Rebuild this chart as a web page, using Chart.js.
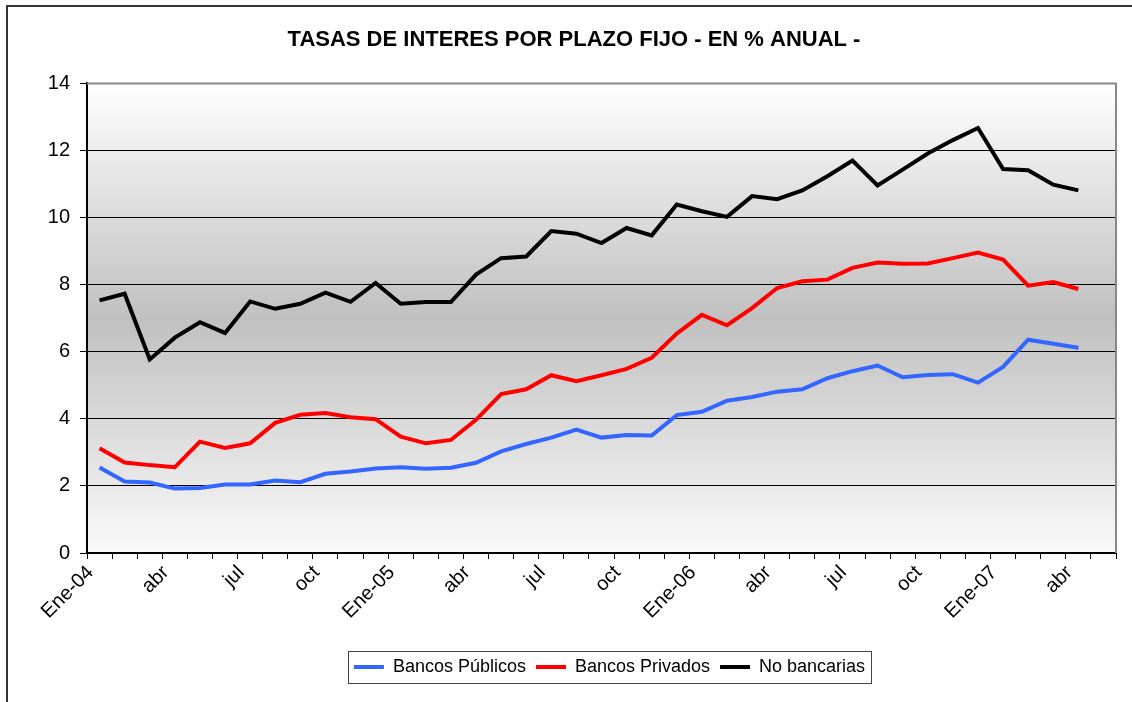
<!DOCTYPE html>
<html>
<head>
<meta charset="utf-8">
<title>Tasas de interes por plazo fijo</title>
<script src="https://cdn.jsdelivr.net/npm/chart.js@4/dist/chart.umd.min.js"></script>
<style>
  html, body { margin: 0; padding: 0; background: #fff; }
  #wrap { position: relative; width: 1132px; height: 702px; overflow: hidden; }
  #frame { position: absolute; left: 6px; top: 5px; right: -10px; bottom: -10px; border-left: 2px solid #333; border-top: 2px solid #333; }
  #wrap canvas { position: absolute; left: 0; top: 0; }
</style>
</head>
<body>
<div id="wrap">
  <div id="frame"></div>
  <canvas id="tasasChart" width="1132" height="702"></canvas>
</div>
<script>
// months Ene-04 .. may-07 (last one has no data)
const categories = [
  'Ene-04', 'feb', 'mar', 'abr', 'may', 'jun', 'jul', 'ago', 'sep', 'oct', 'nov', 'dic',
  'Ene-05', 'feb', 'mar', 'abr', 'may', 'jun', 'jul', 'ago', 'sep', 'oct', 'nov', 'dic',
  'Ene-06', 'feb', 'mar', 'abr', 'may', 'jun', 'jul', 'ago', 'sep', 'oct', 'nov', 'dic',
  'Ene-07', 'feb', 'mar', 'abr', 'may'
];

const bancosPublicos = [
  2.55, 2.13, 2.10, 1.92, 1.94, 2.04, 2.04, 2.16, 2.11, 2.36, 2.43, 2.52,
  2.56, 2.51, 2.54, 2.69, 3.03, 3.25, 3.44, 3.68, 3.44, 3.52, 3.50, 4.11,
  4.21, 4.54, 4.65, 4.81, 4.88, 5.21, 5.42, 5.59, 5.24, 5.31, 5.33, 5.08,
  5.55, 6.36, 6.24, 6.12, null
];

const bancosPrivados = [
  3.12, 2.70, 2.62, 2.56, 3.32, 3.13, 3.27, 3.88, 4.12, 4.17, 4.05, 3.99,
  3.47, 3.27, 3.37, 3.97, 4.74, 4.88, 5.30, 5.12, 5.30, 5.49, 5.82, 6.54,
  7.10, 6.79, 7.30, 7.90, 8.10, 8.15, 8.50, 8.66, 8.62, 8.63, 8.79, 8.96,
  8.75, 7.97, 8.08, 7.87, null
];

const noBancarias = [
  7.53, 7.73, 5.77, 6.42, 6.88, 6.56, 7.50, 7.28, 7.43, 7.76, 7.49, 8.05,
  7.43, 7.48, 7.48, 8.30, 8.79, 8.84, 9.60, 9.52, 9.24, 9.69, 9.47, 10.39,
  10.19, 10.02, 10.64, 10.55, 10.81, 11.23, 11.70, 10.96, 11.43, 11.91, 12.31, 12.67,
  11.45, 11.41, 10.98, 10.81, null
];

const yMin = 0, yMax = 14, yStep = 2;
const labelEvery = 3;

const FONT = '"Liberation Sans", Arial, sans-serif';

// gray gradient behind the plot + plot frame
const plotBackground = {
  id: 'plotBackground',
  beforeDraw(chart) {
    const { ctx, chartArea: a } = chart;
    const g = ctx.createLinearGradient(0, a.top, 0, a.bottom);
    g.addColorStop(0, '#ffffff');
    g.addColorStop(0.5, '#c0c0c0');
    g.addColorStop(1, '#fafafa');
    ctx.save();
    ctx.fillStyle = g;
    ctx.fillRect(a.left, a.top, a.right - a.left, a.bottom - a.top);
    ctx.restore();
  },
  beforeDatasetsDraw(chart) {
    const { ctx, chartArea: a } = chart;
    ctx.save();
    ctx.strokeStyle = '#888';
    ctx.lineWidth = 2;
    ctx.beginPath();
    ctx.moveTo(a.left, a.top);
    ctx.lineTo(a.right, a.top);
    ctx.lineTo(a.right, a.bottom);
    ctx.stroke();
    ctx.restore();
  }
};

// box around the legend, like the spreadsheet one
const legendBox = {
  id: 'legendBox',
  afterLayout(chart) {
    // nudge legend a bit to the right
    if (chart.legend) {
      chart.legend.left += 8;
      chart.legend.right += 8;
    }
  },
  afterDraw(chart) {
    const boxes = chart.legend && chart.legend.legendHitBoxes;
    if (!boxes || !boxes.length) return;
    let l = Infinity, r = -Infinity, t = Infinity, b = -Infinity;
    boxes.forEach(h => {
      l = Math.min(l, h.left); r = Math.max(r, h.left + h.width);
      t = Math.min(t, h.top); b = Math.max(b, h.top + h.height);
    });
    const ctx = chart.ctx;
    ctx.save();
    ctx.strokeStyle = '#444';
    ctx.lineWidth = 1;
    ctx.strokeRect(Math.round(l - 6) + 0.5, Math.round(t - 7) + 0.5, Math.round(r - l + 12), Math.round(b - t + 14));
    ctx.restore();
  }
};

function lineSet(label, data, color) {
  return {
    label: label,
    data: data,
    borderColor: color,
    backgroundColor: color,
    borderWidth: 4,
    pointRadius: 0,
    pointHoverRadius: 0,
    tension: 0,
    spanGaps: false
  };
}

new Chart(document.getElementById('tasasChart'), {
  type: 'line',
  data: {
    labels: categories,
    datasets: [
      lineSet('Bancos Públicos', bancosPublicos, '#3366ff'),
      lineSet('Bancos Privados', bancosPrivados, '#ff0000'),
      lineSet('No bancarias', noBancarias, '#000000')
    ]
  },
  options: {
    responsive: false,
    animation: false,
    layout: { padding: { left: 32, right: 16, top: 0, bottom: 16 } },
    plugins: {
      title: {
        display: true,
        text: 'TASAS DE INTERES POR PLAZO FIJO - EN % ANUAL -',
        color: '#000',
        font: { family: FONT, size: 22, weight: 'bold' },
        padding: { top: 27, bottom: 30 }
      },
      legend: {
        position: 'bottom',
        fullSize: false,
        labels: {
          color: '#000',
          font: { family: FONT, size: 18 },
          usePointStyle: true,
          pointStyle: 'line',
          pointStyleWidth: 30,
          boxHeight: 4,
          padding: 10
        }
      },
      tooltip: { enabled: false }
    },
    scales: {
      x: {
        offset: true,
        afterFit: scale => { scale.height = 95; },
        border: { display: true, color: '#000', width: 2 },
        grid: {
          offset: true,
          drawOnChartArea: false,
          drawTicks: true,
          tickLength: 6,
          color: '#000'
        },
        ticks: {
          autoSkip: false,
          maxRotation: 45,
          minRotation: 45,
          labelOffset: -9,
          padding: 2,
          color: '#000',
          font: { family: FONT, size: 20 },
          callback: function (val, i) {
            return i % labelEvery === 0 ? this.getLabelForValue(val) : '';
          }
        }
      },
      y: {
        min: yMin,
        max: yMax,
        afterFit: scale => { scale.width = 55; },
        border: { display: true, color: '#000', width: 2 },
        grid: {
          color: '#000',
          lineWidth: 1,
          drawTicks: true,
          tickLength: 7
        },
        ticks: {
          stepSize: yStep,
          padding: 10,
          color: '#000',
          font: { family: FONT, size: 20 }
        }
      }
    }
  },
  plugins: [plotBackground, legendBox]
});
</script>
</body>
</html>
